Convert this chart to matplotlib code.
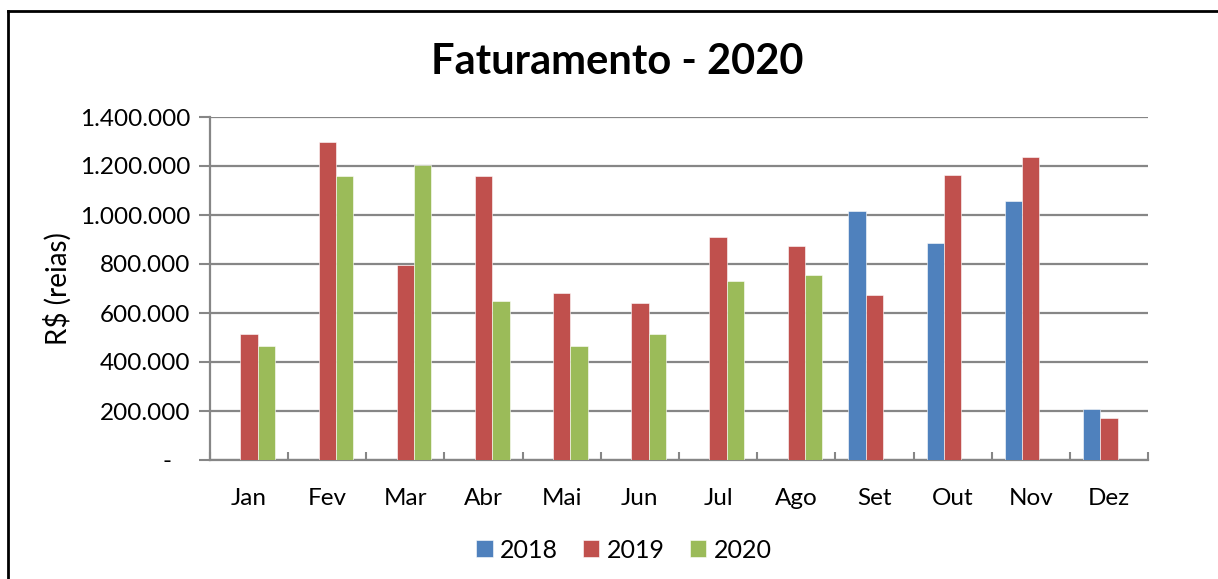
import numpy as np
import matplotlib.pyplot as plt
from matplotlib.lines import Line2D
from matplotlib.ticker import FuncFormatter, MultipleLocator

plt.rcParams['font.family'] = ['Lato', 'DejaVu Sans']

# Data
meses = ['Jan', 'Fev', 'Mar', 'Abr', 'Mai', 'Jun', 'Jul', 'Ago', 'Set', 'Out', 'Nov', 'Dez']
v2018 = [0, 0, 0, 0, 0, 0, 0, 0, 1018000, 884000, 1059000, 207000]
v2019 = [514000, 1298000, 797000, 1158000, 680000, 639000, 909000, 874000, 674000, 1164000, 1238000, 171000]
v2020 = [464000, 1158000, 1204000, 650000, 464000, 514000, 729000, 754000, 0, 0, 0, 0]

cores = {'2018': '#4F81BD', '2019': '#C0504D', '2020': '#9BBB59'}
grid_cor = '#868686'

fig = plt.figure(figsize=(12.18, 5.79), dpi=100)
ax = fig.add_axes([210/1218, 1 - 460/579, (1148-210)/1218, (460-117)/579])

x = np.arange(len(meses))
w = 1 / 4.5
for i, (ano, vals) in enumerate([('2018', v2018), ('2019', v2019), ('2020', v2020)]):
    ax.bar(x + (i - 1) * w, vals, width=w, color=cores[ano], label=ano,
           edgecolor='white', linewidth=0.4, zorder=3)

ax.set_xlim(-0.5, len(meses) - 0.5)
ax.set_ylim(0, 1400000)
ax.yaxis.set_major_locator(MultipleLocator(200000))

def fmt(v, pos):
    if v == 0:
        return '-   '
    return f'{int(v):,}'.replace(',', '.')

ax.yaxis.set_major_formatter(FuncFormatter(fmt))
ax.grid(axis='y', color=grid_cor, linewidth=1.6, zorder=0)

ax.set_xticks(x)
ax.set_xticklabels(meses)
ax.set_xticks(np.arange(-0.5, len(meses)), minor=True)
ax.tick_params(axis='x', which='major', length=0, pad=20, labelsize=17.5)
ax.tick_params(axis='x', which='minor', direction='in', length=6, width=1.5, color=grid_cor)
ax.tick_params(axis='y', length=8, width=1.5, color=grid_cor, labelsize=17.5, pad=6)

for s in ['top', 'right']:
    ax.spines[s].set_visible(False)
for s in ['left', 'bottom']:
    ax.spines[s].set_color(grid_cor)
    ax.spines[s].set_linewidth(1.6)

ax.set_ylabel('R$ (reias)', fontsize=20, labelpad=6)

fig.text(617/1218, 1 - 62/579, 'Faturamento - 2020', ha='center', va='center',
         fontsize=30, fontweight='bold')

ax.legend(loc='center', bbox_to_anchor=(624/1218, 1 - 550/579), bbox_transform=fig.transFigure,
          ncol=3, frameon=False, fontsize=18, handlelength=0.65, handleheight=0.65,
          handletextpad=0.3, columnspacing=1.0)

# outer frame
fig.add_artist(Line2D([8/1218, 8/1218], [0, 1 - 11/579], transform=fig.transFigure, color='black', linewidth=2))
fig.add_artist(Line2D([8/1218, 1], [1 - 11/579, 1 - 11/579], transform=fig.transFigure, color='black', linewidth=2))

fig.savefig('out.png', dpi=100)
